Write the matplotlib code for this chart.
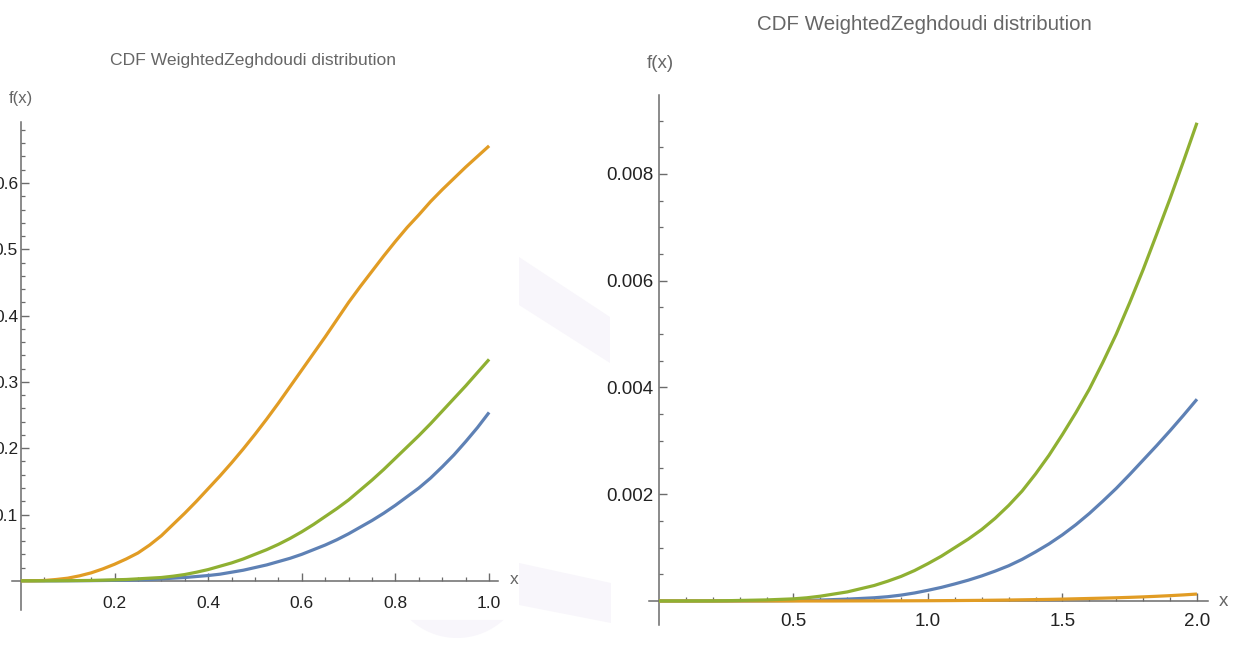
import matplotlib
matplotlib.use("Agg")
import matplotlib.pyplot as plt
from matplotlib.patches import Polygon
import numpy as np

plt.rcParams['font.family'] = ['Liberation Sans', 'DejaVu Sans']

# ---------------- data ----------------
title_text = "CDF WeightedZeghdoudi distribution"

left_x = [0.0, 0.025, 0.05, 0.075, 0.1, 0.125, 0.15, 0.175, 0.2, 0.225, 0.25, 0.275, 0.3, 0.325,
          0.35, 0.375, 0.4, 0.425, 0.45, 0.475, 0.5, 0.525, 0.55, 0.575, 0.6, 0.625, 0.65, 0.675,
          0.7, 0.725, 0.75, 0.775, 0.8, 0.825, 0.85, 0.875, 0.9, 0.925, 0.95, 0.975, 1.0]
left_blue = [0.0, 0.0, 0.0, 0.0, 0.0001, 0.0002, 0.0003, 0.0005, 0.0007, 0.001, 0.0015, 0.002, 0.003,
             0.004, 0.005, 0.0065, 0.008, 0.010, 0.013, 0.016, 0.020, 0.024, 0.029, 0.034, 0.040,
             0.047, 0.054, 0.062, 0.071, 0.081, 0.091, 0.102, 0.114, 0.127, 0.140, 0.155, 0.172,
             0.190, 0.210, 0.231, 0.254]
left_orange = [0.0, 0.0001, 0.0005, 0.002, 0.004, 0.0075, 0.012, 0.018, 0.025, 0.033, 0.042, 0.054,
               0.068, 0.085, 0.102, 0.120, 0.139, 0.158, 0.178, 0.199, 0.221, 0.244, 0.268, 0.293,
               0.318, 0.343, 0.368, 0.394, 0.420, 0.444, 0.467, 0.490, 0.512, 0.533, 0.552, 0.572,
               0.590, 0.607, 0.624, 0.640, 0.656]
left_green = [0.0, 0.0, 0.0, 0.0001, 0.0002, 0.0004, 0.0006, 0.001, 0.0015, 0.002, 0.003, 0.004,
              0.005, 0.007, 0.0095, 0.013, 0.017, 0.022, 0.027, 0.033, 0.040, 0.047, 0.055, 0.064,
              0.074, 0.085, 0.097, 0.109, 0.122, 0.137, 0.152, 0.168, 0.185, 0.202, 0.219, 0.237,
              0.256, 0.275, 0.294, 0.314, 0.334]

right_x = [0.0, 0.05, 0.1, 0.15, 0.2, 0.25, 0.3, 0.35, 0.4, 0.45, 0.5, 0.55, 0.6, 0.65, 0.7, 0.75,
           0.8, 0.85, 0.9, 0.95, 1.0, 1.05, 1.1, 1.15, 1.2, 1.25, 1.3, 1.35, 1.4, 1.45, 1.5, 1.55,
           1.6, 1.65, 1.7, 1.75, 1.8, 1.85, 1.9, 1.95, 2.0]
right_blue = [0.0, 0.0, 0.0, 0.0, 0.0, 0.0, 0.000001, 0.000002, 0.000003, 0.000005, 0.000008,
              0.000012, 0.000018, 0.000026, 0.000035, 0.000047, 0.00006, 0.00008, 0.00011, 0.00015,
              0.0002, 0.000255, 0.00032, 0.00039, 0.00047, 0.00056, 0.00066, 0.00078, 0.00092,
              0.00107, 0.00124, 0.00143, 0.00164, 0.00187, 0.00211, 0.00237, 0.00264, 0.00291,
              0.00319, 0.00348, 0.00378]
right_orange = [0.0, 0.0, 0.0, 0.0, 0.0, 0.0, 0.0, 0.0, 0.0, 0.0, 0.0, 0.0, 0.0, 0.0, 0.000001,
                0.0000015, 0.000002, 0.0000025, 0.000003, 0.000004, 0.000005, 0.0000065, 0.000008,
                0.00001, 0.000012, 0.000015, 0.000018, 0.000022, 0.000026, 0.00003, 0.000035,
                0.000041, 0.000047, 0.000053, 0.00006, 0.000068, 0.000077, 0.000088, 0.0001,
                0.000114, 0.00013]
right_green = [0.0, 0.0, 0.0, 0.000001, 0.000002, 0.000005, 0.00001, 0.000015, 0.00002, 0.00003,
               0.00004, 0.00006, 0.00009, 0.00013, 0.00017, 0.00023, 0.00029, 0.00037, 0.00046,
               0.00057, 0.0007, 0.00084, 0.001, 0.00116, 0.00134, 0.00155, 0.00179, 0.00206,
               0.00238, 0.00273, 0.00312, 0.00353, 0.00397, 0.00447, 0.0050, 0.00559, 0.00621,
               0.00687, 0.00754, 0.00824, 0.00896]

left_xticks = [0.2, 0.4, 0.6, 0.8, 1.0]
left_xticklabels = ["0.2", "0.4", "0.6", "0.8", "1.0"]
left_yticks = [0.1, 0.2, 0.3, 0.4, 0.5, 0.6]
left_yticklabels = ["0.1", "0.2", "0.3", "0.4", "0.5", "0.6"]
right_xticks = [0.5, 1.0, 1.5, 2.0]
right_xticklabels = ["0.5", "1.0", "1.5", "2.0"]
right_yticks = [0.002, 0.004, 0.006, 0.008]
right_yticklabels = ["0.002", "0.004", "0.006", "0.008"]

BLUE = "#5E81B5"
ORANGE = "#E19C24"
GREEN = "#8FB032"
AXIS = "#6b6b6b"
LABEL = "#666666"

W, H = 1241, 645
fig = plt.figure(figsize=(W / 100, H / 100), dpi=100)
fig.patch.set_facecolor("white")


def px_rect(x0, x1, ytop, ybot):
    return [x0 / W, 1 - ybot / H, (x1 - x0) / W, (ybot - ytop) / H]


def fx(px):
    return px / W


def fy(py):
    return 1 - py / H


# faint background artefacts
shade = "#f8f6fb"
fig.patches.append(Polygon([(fx(519), fy(257)), (fx(610), fy(317)), (fx(610), fy(363)), (fx(519), fy(305))],
                           closed=True, transform=fig.transFigure, facecolor=shade, edgecolor="none", zorder=0))
fig.patches.append(Polygon([(fx(519), fy(563)), (fx(611), fy(583)), (fx(611), fy(623)), (fx(519), fy(605))],
                           closed=True, transform=fig.transFigure, facecolor=shade, edgecolor="none", zorder=0))
th = np.linspace(np.arccos(46.5 / 69), np.pi - np.arccos(46.5 / 69), 40)
arc = [(fx(457 + 69 * np.cos(t)), fy(569 + 69 * np.sin(t))) for t in th]
fig.patches.append(Polygon(arc, closed=True, transform=fig.transFigure, facecolor=shade,
                           edgecolor="none", zorder=0))


def style_axes(ax, xlim, ylim, xmin_step, ymin_step, xt, xtl, yt, ytl, fs, xpad, ypad):
    ax.set_xlim(*xlim)
    ax.set_ylim(*ylim)
    ax.patch.set_alpha(0)
    for s in ("top", "right"):
        ax.spines[s].set_visible(False)
    ax.spines["left"].set_position(("data", 0))
    ax.spines["bottom"].set_position(("data", 0))
    for s in ("left", "bottom"):
        ax.spines[s].set_color(AXIS)
        ax.spines[s].set_linewidth(1.1)
    ax.set_xticks(xt)
    ax.set_xticklabels(xtl)
    ax.set_yticks(yt)
    ax.set_yticklabels(ytl)
    nx = int(round(xlim[1] / xmin_step))
    ny = int(round(ylim[1] / ymin_step))
    ax.set_xticks([i * xmin_step for i in range(1, nx + 1) if i * xmin_step <= xlim[1]], minor=True)
    ax.set_yticks([i * ymin_step for i in range(1, ny + 1) if i * ymin_step <= ylim[1]], minor=True)
    ax.tick_params(axis="both", which="major", direction="in", length=6, width=1.0,
                   color=AXIS, labelsize=fs, labelcolor="#222222")
    ax.tick_params(axis="both", which="minor", direction="in", length=3, width=0.9, color=AXIS)
    ax.tick_params(axis="x", which="major", pad=xpad)
    ax.tick_params(axis="y", which="major", pad=ypad)


# ---------------- left panel ----------------
axL = fig.add_axes(px_rect(12, 498, 122, 610))
axL.plot(left_x, left_blue, color=BLUE, lw=2.3, zorder=3, solid_capstyle="butt")
axL.plot(left_x, left_orange, color=ORANGE, lw=2.3, zorder=3, solid_capstyle="butt")
axL.plot(left_x, left_green, color=GREEN, lw=2.3, zorder=3, solid_capstyle="butt")
style_axes(axL, (-0.019, 1.019), (-0.044, 0.692), 0.05, 0.02,
           left_xticks, left_xticklabels, left_yticks, left_yticklabels, 12.5, 11, 2)

fig.text(fx(253), fy(60), title_text, ha="center", va="center", fontsize=12.6, color=LABEL)
fig.text(fx(21), fy(99), "f(x)", ha="center", va="center", fontsize=12, color=LABEL)
fig.text(fx(514), fy(580), "x", ha="center", va="center", fontsize=12.5, color=LABEL)

# ---------------- right panel ----------------
axR = fig.add_axes(px_rect(649, 1208, 95, 625))
axR.plot(right_x, right_blue, color=BLUE, lw=2.3, zorder=3, solid_capstyle="butt")
axR.plot(right_x, right_orange, color=ORANGE, lw=2.3, zorder=3, solid_capstyle="butt")
axR.plot(right_x, right_green, color=GREEN, lw=2.3, zorder=3, solid_capstyle="butt")
style_axes(axR, (-0.037, 2.041), (-0.00045, 0.00948), 0.1, 0.0005,
           right_xticks, right_xticklabels, right_yticks, right_yticklabels, 13.5, 9, 4)

fig.text(fx(924), fy(24), title_text, ha="center", va="center", fontsize=14.8, color=LABEL)
fig.text(fx(660), fy(63), "f(x)", ha="center", va="center", fontsize=13.5, color=LABEL)
fig.text(fx(1223), fy(601), "x", ha="center", va="center", fontsize=13.5, color=LABEL)

fig.savefig("out.png", dpi=100, facecolor="white")
